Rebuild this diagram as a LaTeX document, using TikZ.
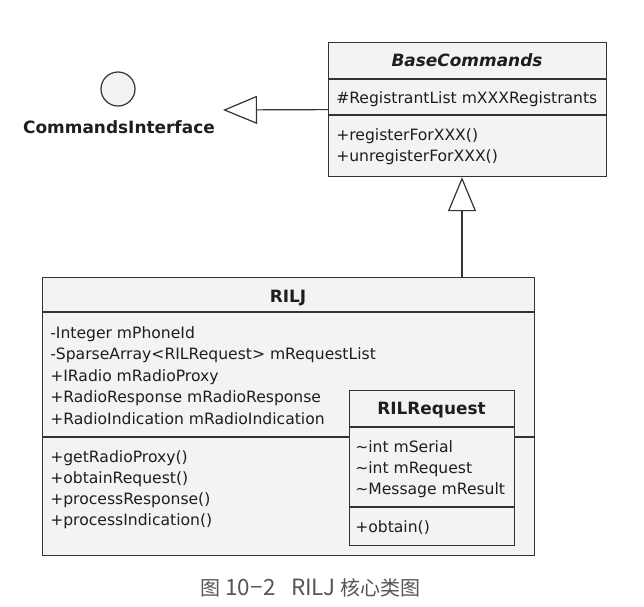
\documentclass[tikz,border=0pt]{standalone}
\usepackage{fontspec}
\setmainfont{DejaVu Sans}
\newfontfamily\cjk{Noto Sans CJK SC}
\usepackage{xcolor}
\usetikzlibrary{arrows.meta}

\definecolor{linec}{HTML}{333333}
\definecolor{txt}{HTML}{1E1E1E}
\definecolor{boxfill}{HTML}{F3F3F3}
\definecolor{captxt}{HTML}{555555}

\newcommand{\caplatin}[1]{{\fontsize{16.8}{18}\selectfont #1}}

\tikzset{
	umlbox/.style={draw=linec, fill=boxfill, line width=0.9pt, anchor=north west, inner sep=0pt},
	member/.style={anchor=base west, inner sep=0pt, text=txt, font=\fontsize{11.7}{14}\selectfont},
	classname/.style={anchor=base, inner sep=0pt, text=txt, font=\fontsize{12.7}{15}\selectfont\bfseries},
	sep/.style={draw=linec, line width=0.9pt},
	inherit/.style={draw=linec, line width=0.9pt, -{Triangle[open, length=25.5pt, width=21pt]}}
}

\begin{document}
\begin{tikzpicture}[x=0.75pt, y=-0.75pt]
		\useasboundingbox[fill=white] (0,0) rectangle (644,607);

		% interface
		\node [draw=linec, fill=boxfill, line width=0.9pt, circle, minimum size=25.5pt, inner sep=0pt] (ci) at (118,89) {};
		\node [classname] (cilabel) at (119,133) {CommandsInterface};

		% BaseCommands
		\node [umlbox, minimum width=208.5pt, minimum height=100.5pt] (bc) at (328,42) {};
		\draw [sep] (bc.west |- 0,79) -- (bc.east |- 0,79);
		\draw [sep] (bc.west |- 0,115) -- (bc.east |- 0,115);
		\node [classname] (bcname) at (467,66) {\itshape BaseCommands};
		\node [member] (bcattr) at (336,103) {\#RegistrantList mXXXRegistrants};
		\node [member] (bcreg) at (336,140) {+registerForXXX()};
		\node [member] (bcunreg) at (336,161.5) {+unregisterForXXX()};

		% RILJ
		\node [umlbox, minimum width=369pt, minimum height=208.5pt] (rilj) at (42,277) {};
		\draw [sep] (rilj.west |- 0,312) -- (rilj.east |- 0,312);
		\draw [sep] (rilj.west |- 0,437) -- (rilj.east |- 0,437);
		\node [classname] (riljname) at (288,302) {RILJ};
		\node [member] (riljphone) at (50,338) {-Integer mPhoneId};
		\node [member] (riljlist) at (50,359.5) {-SparseArray<RILRequest> mRequestList};
		\node [member] (riljproxy) at (50,381) {+IRadio mRadioProxy};
		\node [member] (riljresp) at (50,402.5) {+RadioResponse mRadioResponse};
		\node [member] (riljind) at (50,424) {+RadioIndication mRadioIndication};
		\node [member] (riljget) at (50,462.5) {+getRadioProxy()};
		\node [member] (riljobtain) at (50,483.5) {+obtainRequest()};
		\node [member] (riljpresp) at (50,504.5) {+processResponse()};
		\node [member] (riljpind) at (50,525.5) {+processIndication()};

		% RILRequest
		\node [umlbox, minimum width=123.75pt, minimum height=116.25pt] (rr) at (349,390) {};
		\draw [sep] (rr.west |- 0,427) -- (rr.east |- 0,427);
		\draw [sep] (rr.west |- 0,507) -- (rr.east |- 0,507);
		\node [classname] (rrname) at (431.5,414) {RILRequest};
		\node [member] (rrserial) at (355,452) {\char"007E int mSerial};
		\node [member] (rrreq) at (355,473) {\char"007E int mRequest};
		\node [member] (rrres) at (355,494) {\char"007E Message mResult};
		\node [member] (rrobtain) at (355,532) {+obtain()};

		% connectors
		\coordinate (realize) at (223,110);
		\draw [inherit] (bc.west) -- (realize);
		\coordinate (riljtop) at (462,277);
		\draw [inherit] (riljtop) -- (riljtop |- bc.south);

		\node [anchor=base, inner sep=0pt, text=captxt, font=\cjk\fontsize{15}{18}\selectfont] (caption) at (310.5,595)
			{图 \caplatin{10\kern0.6pt−\kern0.6pt2}\hspace{11pt}\caplatin{RILJ} 核心类图};
	\end{tikzpicture}
\end{document}
